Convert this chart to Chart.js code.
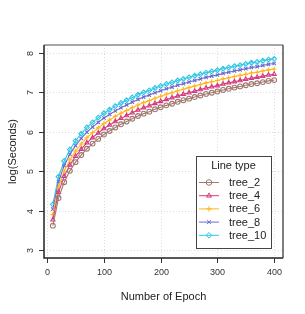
<!DOCTYPE html>
<html lang="en">
<head>
    <meta charset="UTF-8">
    <title>log(Seconds) by epoch</title>
    <style>
        html, body { margin: 0; padding: 0; background: #fff; }
        #wrap { position: relative; width: 305px; height: 314px; }
    </style>
    <script src="https://cdn.jsdelivr.net/npm/chart.js@4.4.0/dist/chart.umd.min.js"></script>
</head>
<body>
    <div id="wrap">
        <canvas id="line-chart" width="305" height="314"></canvas>
    </div>
    <script>
        // epochs 10..400
        const epochs = [10, 20, 30, 40, 50, 60, 70, 80, 90, 100, 110, 120, 130, 140, 150, 160, 170, 180, 190, 200,
            210, 220, 230, 240, 250, 260, 270, 280, 290, 300, 310, 320, 330, 340, 350, 360, 370, 380, 390, 400];

        const tree2 = [3.62, 4.32, 4.72, 5.01, 5.23, 5.41, 5.57, 5.70, 5.82, 5.93, 6.02, 6.11, 6.19, 6.26, 6.33, 6.40, 6.46, 6.51, 6.57, 6.62,
            6.67, 6.71, 6.76, 6.80, 6.84, 6.88, 6.92, 6.96, 6.99, 7.02, 7.06, 7.09, 7.12, 7.15, 7.18, 7.21, 7.23, 7.26, 7.29, 7.31];
        const tree4 = [3.77, 4.47, 4.87, 5.16, 5.38, 5.56, 5.72, 5.85, 5.97, 6.08, 6.17, 6.26, 6.34, 6.41, 6.48, 6.55, 6.61, 6.66, 6.72, 6.77,
            6.82, 6.86, 6.91, 6.95, 6.99, 7.03, 7.07, 7.11, 7.14, 7.17, 7.21, 7.24, 7.27, 7.30, 7.33, 7.36, 7.38, 7.41, 7.44, 7.46];
        const tree6 = [3.90, 4.60, 5.00, 5.29, 5.51, 5.69, 5.85, 5.98, 6.10, 6.21, 6.30, 6.39, 6.47, 6.54, 6.61, 6.68, 6.74, 6.79, 6.85, 6.90,
            6.95, 6.99, 7.04, 7.08, 7.12, 7.16, 7.20, 7.24, 7.27, 7.30, 7.34, 7.37, 7.40, 7.43, 7.46, 7.49, 7.51, 7.54, 7.57, 7.59];
        const tree8 = [4.04, 4.74, 5.14, 5.43, 5.65, 5.83, 5.99, 6.12, 6.24, 6.35, 6.44, 6.53, 6.61, 6.68, 6.75, 6.82, 6.88, 6.93, 6.99, 7.04,
            7.09, 7.13, 7.18, 7.22, 7.26, 7.30, 7.34, 7.38, 7.41, 7.44, 7.48, 7.51, 7.54, 7.57, 7.60, 7.63, 7.65, 7.68, 7.71, 7.73];
        const tree10 = [4.16, 4.86, 5.26, 5.55, 5.77, 5.95, 6.11, 6.24, 6.36, 6.47, 6.56, 6.65, 6.73, 6.80, 6.87, 6.94, 7.00, 7.05, 7.11, 7.16,
            7.21, 7.25, 7.30, 7.34, 7.38, 7.42, 7.46, 7.50, 7.53, 7.56, 7.60, 7.63, 7.66, 7.69, 7.72, 7.75, 7.77, 7.80, 7.83, 7.85];

        const seriesNames = ['tree_2', 'tree_4', 'tree_6', 'tree_8', 'tree_10'];
        const xTicks = [0, 100, 200, 300, 400];
        const yTicks = [3, 4, 5, 6, 7, 8];

        const colors = ['#a0786e', '#d63a7e', '#ffb619', '#6a6ad0', '#2ec8e6'];
        const shapes = ['circle', 'triangle', 'cross', 'crossRot', 'rectRot'];
        const values = [tree2, tree4, tree6, tree8, tree10];

        const datasets = values.map(function (v, i) {
            return {
                label: seriesNames[i],
                data: v.map(function (y, j) { return { x: epochs[j], y: y }; }),
                borderColor: colors[i],
                backgroundColor: 'transparent',
                borderWidth: 1.1,
                pointStyle: shapes[i],
                pointRadius: 2.4,
                pointBorderWidth: 1.1,
                pointBorderColor: colors[i],
                pointBackgroundColor: 'transparent'
            };
        });

        const font = '"Liberation Sans", Arial, sans-serif';

        // axes, grid, ticks, titles drawn like base R graphics
        const rAxes = {
            id: 'rAxes',
            beforeDatasetsDraw: function (chart) {
                const ctx = chart.ctx, a = chart.chartArea;
                const xs = chart.scales.x, ys = chart.scales.y;
                ctx.save();
                ctx.strokeStyle = '#dcdcdc';
                ctx.lineWidth = 1;
                ctx.setLineDash([1, 2]);
                xTicks.forEach(function (t) {
                    const px = Math.round(xs.getPixelForValue(t)) + 0.5;
                    ctx.beginPath(); ctx.moveTo(px, a.top); ctx.lineTo(px, a.bottom); ctx.stroke();
                });
                yTicks.forEach(function (t) {
                    const py = Math.round(ys.getPixelForValue(t)) + 0.5;
                    ctx.beginPath(); ctx.moveTo(a.left, py); ctx.lineTo(a.right, py); ctx.stroke();
                });
                ctx.restore();
            },
            afterDraw: function (chart) {
                const ctx = chart.ctx, a = chart.chartArea;
                const xs = chart.scales.x, ys = chart.scales.y;
                ctx.save();
                // box
                ctx.lineWidth = 1.5;
                ctx.strokeStyle = '#8a8a8a';
                ctx.beginPath(); ctx.moveTo(a.left, a.top); ctx.lineTo(a.right, a.top); ctx.stroke();
                ctx.strokeStyle = '#555';
                ctx.beginPath(); ctx.moveTo(a.right, a.top); ctx.lineTo(a.right, a.bottom); ctx.stroke();
                ctx.strokeStyle = '#222';
                ctx.beginPath(); ctx.moveTo(a.left, a.top); ctx.lineTo(a.left, a.bottom); ctx.lineTo(a.right, a.bottom); ctx.stroke();

                // ticks
                ctx.lineWidth = 1;
                ctx.strokeStyle = '#333';
                ctx.fillStyle = '#333';
                ctx.font = '9px ' + font;
                ctx.textAlign = 'center';
                ctx.textBaseline = 'middle';
                xTicks.forEach(function (t) {
                    const px = Math.round(xs.getPixelForValue(t)) + 0.5;
                    ctx.beginPath(); ctx.moveTo(px, a.bottom); ctx.lineTo(px, a.bottom + 5); ctx.stroke();
                    ctx.fillText(String(t), px, a.bottom + 15);
                });
                yTicks.forEach(function (t) {
                    const py = Math.round(ys.getPixelForValue(t)) + 0.5;
                    ctx.beginPath(); ctx.moveTo(a.left, py); ctx.lineTo(a.left - 5, py); ctx.stroke();
                    ctx.save();
                    ctx.translate(a.left - 13, py);
                    ctx.rotate(-Math.PI / 2);
                    ctx.fillText(String(t), 0, 0);
                    ctx.restore();
                });

                // titles
                ctx.fillStyle = '#222';
                ctx.font = '11px ' + font;
                ctx.fillText('Number of Epoch', (a.left + a.right) / 2, 297);
                ctx.save();
                ctx.translate(13, (a.top + a.bottom) / 2);
                ctx.rotate(-Math.PI / 2);
                ctx.fillText('log(Seconds)', 0, 0);
                ctx.restore();

                // legend
                const lx = 196, ly = 156, lw = 75, lh = 92;
                ctx.fillStyle = '#fff';
                ctx.fillRect(lx, ly, lw, lh);
                ctx.strokeStyle = '#444';
                ctx.lineWidth = 1;
                ctx.strokeRect(lx + 0.5, ly + 0.5, lw, lh);
                ctx.fillStyle = '#222';
                ctx.font = '11px ' + font;
                ctx.textAlign = 'center';
                ctx.fillText('Line type', lx + lw / 2, ly + 10);
                seriesNames.forEach(function (name, i) {
                    const y = ly + 26.5 + i * 13.2;
                    ctx.strokeStyle = colors[i];
                    ctx.lineWidth = 1;
                    ctx.beginPath(); ctx.moveTo(lx + 3, y); ctx.lineTo(lx + 23, y); ctx.stroke();
                    ctx.fillStyle = 'rgba(255,255,255,0)';
                    Chart.helpers.drawPoint(ctx, {
                        pointStyle: shapes[i], radius: 2.8, borderWidth: 1, rotation: 0
                    }, lx + 13, y);
                    ctx.fillStyle = '#222';
                    ctx.textAlign = 'left';
                    ctx.fillText(name, lx + 33, y + 0.5);
                });
                ctx.restore();
            }
        };

        myChart = new Chart(document.getElementById('line-chart').getContext('2d'), {
            type: 'line',
            data: { datasets: datasets },
            options: {
                responsive: false,
                animation: false,
                layout: { padding: { left: 44, right: 22, top: 45, bottom: 56 } },
                scales: {
                    x: { type: 'linear', min: -5.6, max: 415.6, display: false },
                    y: { type: 'linear', min: 2.8, max: 8.2, display: false }
                },
                plugins: {
                    legend: { display: false },
                    tooltip: { enabled: false }
                }
            },
            plugins: [rAxes]
        });
    </script>
</body>
</html>
